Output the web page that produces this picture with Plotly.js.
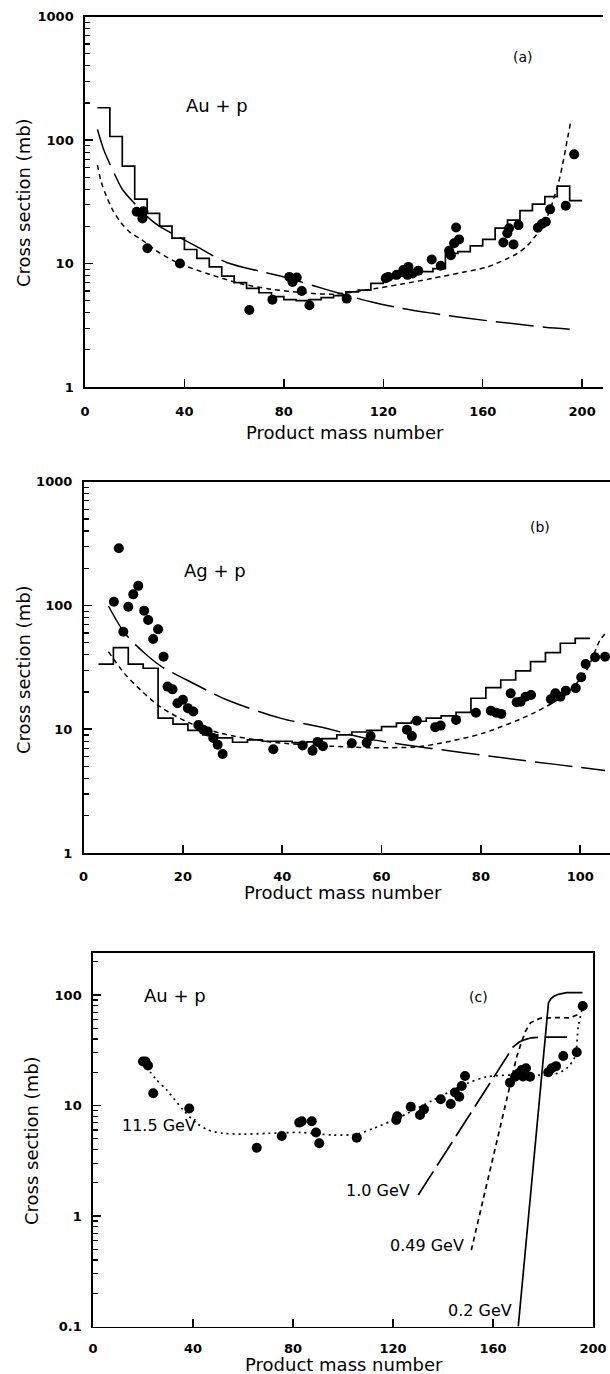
<!DOCTYPE html>
<html>
<head>
<meta charset="utf-8">
<script src="https://cdn.plot.ly/plotly-3.0.1.min.js"></script>
<style>html,body{margin:0;padding:0;background:#fff;}#chart{width:610px;height:1374px;}</style>
</head>
<body>
<div id="chart"></div>
<script>
// ---------- Panel (a): Au + p ----------
const aDotsX = [20.8, 23.5, 23.1, 25.1, 38.2, 66.1, 75.4, 82.2, 83.5, 85.2, 87.2, 90.3, 105.3, 121, 122, 125.4, 128.1, 129.8, 130.1, 131.8, 134.1, 139.5, 143.1, 146.5, 147.2, 148.5, 149.3, 150.5, 168.3, 169.9, 170.6, 172.4, 174.4, 182.2, 183.8, 185.4, 187.1, 193.4, 196.8];
const aDotsY = [26.3, 26.5, 23.2, 13.3, 10, 4.2, 5.1, 7.8, 7.1, 7.7, 6.0, 4.6, 5.2, 7.6, 7.8, 8.1, 8.85, 8.1, 9.4, 8.3, 8.75, 10.8, 9.6, 12.7, 11.7, 14.6, 19.6, 15.7, 14.8, 17.6, 19.3, 14.3, 20.5, 19.5, 20.9, 21.8, 27.5, 29.4, 76.7];
const aHistX = [5, 10, 15, 20, 25, 30, 35, 40, 45, 50, 55, 60, 65, 70, 75, 80, 85, 90, 95, 100, 105, 110, 115, 120, 125, 130, 135, 140, 145, 150, 155, 160, 165, 170, 175, 180, 185, 190, 195, 200];
const aHistY = [183, 107, 61.6, 33.3, 25.5, 20.1, 16.1, 13.0, 11.0, 9.4, 7.9, 7.0, 6.3, 5.8, 5.4, 5.1, 5.0, 5.1, 5.3, 5.5, 5.9, 6.1, 6.9, 7.6, 7.9, 8.3, 8.6, 9.1, 12.1, 12.5, 13.9, 15.7, 19.4, 22.5, 26.8, 30.3, 34.8, 42.4, 32.3, 32.3];
const aLongX = [5, 7.5, 10, 12.5, 15, 20, 25, 30, 38, 45, 57, 70, 81, 92, 103, 115, 127, 140, 154, 170, 185, 195];
const aLongY = [122, 84, 64, 50, 40, 30.5, 24, 20, 16.3, 13.7, 10.2, 8.7, 7.7, 6.6, 5.7, 4.9, 4.35, 3.95, 3.6, 3.3, 3.05, 2.94];
const aShortX = [5, 6.5, 8.4, 11, 14.2, 18, 23, 30, 38, 50, 62.4, 75, 88, 100, 113, 127, 140, 152, 162, 170, 174, 178, 181, 183, 186, 188.4, 190.5, 192.5, 194, 195.4];
const aShortY = [62.8, 46, 36, 27.5, 21.8, 18, 15.5, 12.2, 10, 8.2, 6.9, 6.2, 5.8, 5.65, 6.1, 6.8, 7.6, 8.5, 9.4, 11.0, 12.1, 14, 16.5, 18.7, 24, 32.7, 45, 69, 100, 141];

// ---------- Panel (b): Ag + p ----------
const bDotsX = [6.1, 7.1, 8.0, 9.0, 10.0, 11.0, 12.2, 13.0, 14.0, 15.0, 16.1, 16.9, 17.9, 18.9, 20.0, 21.0, 22.1, 23.1, 24.1, 25.0, 26.1, 27.0, 28.0, 38.2, 44.1, 46.1, 47.1, 48.2, 54.0, 57.0, 57.8, 65.1, 66.1, 67.1, 70.8, 71.9, 75.0, 79.0, 82.0, 83.1, 84.1, 86.0, 87.2, 88.0, 89.0, 90.1, 94.1, 95.0, 96.0, 97.1, 99.1, 100.2, 101.1, 103.0, 105.0];
const bDotsY = [107, 290, 61.4, 97.7, 123, 144, 90.8, 76.4, 53.6, 64.3, 38.6, 22.1, 21.0, 16.2, 17.3, 14.8, 13.9, 10.8, 9.9, 9.6, 8.5, 7.5, 6.3, 6.9, 7.4, 6.7, 7.9, 7.3, 7.7, 7.8, 8.8, 9.9, 8.8, 11.7, 10.4, 10.7, 11.9, 13.6, 14.1, 13.6, 13.3, 19.5, 16.5, 16.7, 18.3, 18.9, 17.5, 19.5, 18.3, 20.5, 21.5, 26.3, 33.7, 38.2, 38.5];
const bHistX = [3, 6, 9, 12, 15, 18, 21, 24, 27, 30, 33, 36, 39, 42, 45, 48, 51, 54, 57, 60, 63, 66, 69, 72, 75, 78, 81, 84, 87, 90, 93, 96, 99, 102];
const bHistY = [33.6, 45.6, 33.6, 31.1, 12.3, 11.0, 9.8, 9.0, 8.5, 7.85, 8.2, 8.0, 8.0, 7.8, 7.9, 8.4, 9.0, 9.5, 9.8, 10.5, 11.2, 11.6, 12.3, 12.8, 13.7, 17.8, 21.7, 25, 29.6, 35.2, 41.6, 49.5, 54.3, 54.3];
const bLongX = [5, 8.3, 12.7, 16, 20.8, 28.8, 39.6, 49.6, 57, 70, 84, 95, 105];
const bLongY = [99, 59.6, 39.8, 31.5, 25, 17.3, 12.3, 10, 8.4, 7.0, 5.9, 5.2, 4.65];
const bShortX = [5, 8.2, 11.5, 15.4, 21.4, 27.5, 37.6, 49.6, 58, 67.1, 71.8, 80.5, 90.6, 97.3, 101.3, 104, 105.4];
const bShortY = [42.4, 28.3, 20.7, 15.2, 11.2, 9.3, 7.9, 7.3, 7.1, 7.2, 7.7, 9.3, 13.5, 19.5, 30.1, 52.6, 61.4];

// ---------- Panel (c): Au + p, several energies ----------
const cDotsX = [20, 21, 22, 24.1, 38.5, 65.5, 75.5, 82.5, 83.5, 87.5, 89.2, 90.5, 105.5, 121.3, 121.7, 127.1, 130.8, 132.4, 139.1, 143.1, 144.8, 146.5, 147.5, 148.8, 166.8, 168.8, 170.1, 171.5, 172, 173.2, 174.8, 182.1, 183.5, 185.2, 188.1, 193.5, 195.9];
const cDotsY = [25, 25, 23, 12.9, 9.4, 4.15, 5.3, 7.0, 7.2, 7.2, 5.7, 4.55, 5.1, 7.4, 8.0, 9.75, 8.2, 9.25, 11.4, 10.3, 13.1, 12.0, 15.0, 18.5, 16.1, 18.2, 19.5, 20.9, 18.3, 21.7, 18.2, 20, 21.7, 22.7, 28, 30.3, 79.5];
const c115X = [21.3, 25, 29.5, 36.1, 41.5, 46, 52.1, 60, 70, 82.8, 96, 105.5, 112.1, 121.5, 136.1, 149.5, 157.5, 168, 178.8, 184, 189.5, 192.8, 194.1, 195.9];
const c115Y = [22.4, 17.5, 13.8, 9.1, 6.9, 6.0, 5.6, 5.5, 5.6, 5.7, 5.4, 5.5, 6.2, 7.6, 11.2, 15.8, 18.2, 18.9, 18.8, 19, 21.7, 27.7, 51.6, 79.5];
const c10X = [130.1, 168.1, 170.5, 172.8, 175.3, 180, 189.6];
const c10Y = [1.55, 34, 37.5, 39.5, 41, 41.5, 41.6];
const c049X = [151.3, 169.5, 171.3, 173, 175, 178.8, 185, 190.8, 193.5, 194.5];
const c049Y = [0.49, 27.7, 37, 47, 56, 61.5, 62.5, 62, 66, 70];
const c02X = [170.1, 182.2, 183.2, 184.5, 186.5, 189.5, 195.8];
const c02Y = [0.1, 85, 93, 98, 102, 105, 105];

// ---------- tick labels ----------
const abTickVals = [1, 10, 100, 1000];
const abTickText = ['1', '10', '100', '1000'];
const abMinor = [2,3,4,5,6,7,8,9,20,30,40,50,60,70,80,90,200,300,400,500,600,700,800,900];
const cTickVals = [0.1, 1, 10, 100];
const cTickText = ['0.1', '1', '10', '100'];
const cMinor = [0.2,0.3,0.4,0.5,0.6,0.7,0.8,0.9,2,3,4,5,6,7,8,9,20,30,40,50,60,70,80,90,200];

const W = 610, H = 1374;
const FONT = 'DejaVu Sans, Liberation Sans, sans-serif';
const px = v => v / W;
const py = v => 1 - v / H;

const dotStyle = {color: '#000', size: 10};
function dots(x, y, xa, ya) {
  return {x, y, xaxis: xa, yaxis: ya, type: 'scatter', mode: 'markers', marker: dotStyle, showlegend: false, hoverinfo: 'x+y'};
}
function line(x, y, xa, ya, dash, shape, width) {
  return {x, y, xaxis: xa, yaxis: ya, type: 'scatter', mode: 'lines',
    line: {color: '#000', width: width || 1.5, dash: dash, shape: shape || 'spline', smoothing: 0.8},
    showlegend: false, hoverinfo: 'x+y'};
}

const LONG = '38px,9px';
const SHORT = '5px,4px';

const traces = [
  line(aHistX, aHistY, 'x', 'y', 'solid', 'hv', 1.7),
  line(aLongX, aLongY, 'x', 'y', LONG),
  line(aShortX, aShortY, 'x', 'y', SHORT),
  dots(aDotsX, aDotsY, 'x', 'y'),

  line(bHistX, bHistY, 'x2', 'y2', 'solid', 'hv', 1.7),
  line(bLongX, bLongY, 'x2', 'y2', LONG),
  line(bShortX, bShortY, 'x2', 'y2', SHORT),
  dots(bDotsX, bDotsY, 'x2', 'y2'),

  line(c115X, c115Y, 'x3', 'y3', '2px,4px', 'spline', 1.7),
  line(c10X, c10Y, 'x3', 'y3', '28px,7px', 'linear', 1.7),
  line(c049X, c049Y, 'x3', 'y3', SHORT, 'linear', 1.7),
  line(c02X, c02Y, 'x3', 'y3', 'solid', 'linear', 1.7),
  dots(cDotsX, cDotsY, 'x3', 'y3'),
];

const tickFont = {family: FONT, size: 13, color: '#000', weight: 'bold'};
function xAxis(domain, range, dtick, anchor, standoff) {
  return {domain, range, anchor, dtick, tick0: 0, tickmode: 'linear',
    showline: true, linecolor: '#000', linewidth: 1.7, mirror: true,
    ticks: 'inside', ticklen: 8, tickwidth: 1.5, tickcolor: '#000',
    showgrid: false, zeroline: false, tickfont: tickFont, ticklabelstandoff: standoff};
}
function yAxis(domain, range, anchor, vals, text, minor, mirror) {
  return {domain, range, anchor, type: 'log', tickmode: 'array', tickvals: vals, ticktext: text,
    showline: true, linecolor: '#000', linewidth: 1.7, mirror: mirror,
    ticks: 'inside', ticklen: 8, tickwidth: 1.5, tickcolor: '#000',
    minor: {tickmode: 'array', tickvals: minor, ticks: 'inside', ticklen: 5, tickwidth: 1.2, tickcolor: '#000', showgrid: false},
    showgrid: false, zeroline: false, tickfont: tickFont, ticklabelstandoff: 7};
}

function ann(text, x, y, size, extra) {
  return Object.assign({text, x: px(x), y: py(y), xref: 'paper', yref: 'paper', showarrow: false,
    xanchor: 'center', yanchor: 'middle', font: {family: FONT, size, color: '#000'}}, extra || {});
}

const layout = {
  width: W, height: H,
  margin: {l: 0, r: 0, t: 0, b: 0},
  paper_bgcolor: '#fff', plot_bgcolor: 'rgba(0,0,0,0)',
  showlegend: false,
  xaxis: xAxis([px(85), px(603)], [0, 208.4], 40, 'y', 12),
  yaxis: yAxis([py(387), py(16.7)], [0, 3], 'x', abTickVals, abTickText, abMinor, false),
  xaxis2: xAxis([px(83.6), 1], [0, 106], 20, 'y2', 11),
  yaxis2: yAxis([py(853), py(481.7)], [0, 3], 'x2', abTickVals, abTickText, abMinor, false),
  xaxis3: xAxis([px(93), px(593)], [0, 200], 40, 'y3', 9),
  yaxis3: yAxis([py(1326.5), py(953)], [-1, 2.38], 'x3', cTickVals, cTickText, cMinor, true),
  annotations: [
    ann('Product mass number', 345, 433, 18),
    ann('Cross section (mb)', 23, 203, 18, {textangle: -90}),
    ann('Au + p', 217, 105, 18),
    ann('(a)', 523, 57, 14),

    ann('Product mass number', 343, 892, 18),
    ann('Cross section (mb)', 23, 670, 18, {textangle: -90}),
    ann('Ag + p', 215, 570, 18),
    ann('(b)', 540, 527, 14),

    ann('Product mass number', 344, 1364, 18),
    ann('Cross section (mb)', 31, 1141, 18, {textangle: -90}),
    ann('Au + p', 175, 995, 18),
    ann('(c)', 478, 997, 14),
    ann('11.5 GeV', 159, 1125, 16),
    ann('1.0 GeV', 378, 1190, 16),
    ann('0.49 GeV', 427, 1245, 16),
    ann('0.2 GeV', 480, 1310, 16),
  ]
};

Plotly.newPlot('chart', traces, layout, {displayModeBar: false, staticPlot: true});
</script>
</body>
</html>
